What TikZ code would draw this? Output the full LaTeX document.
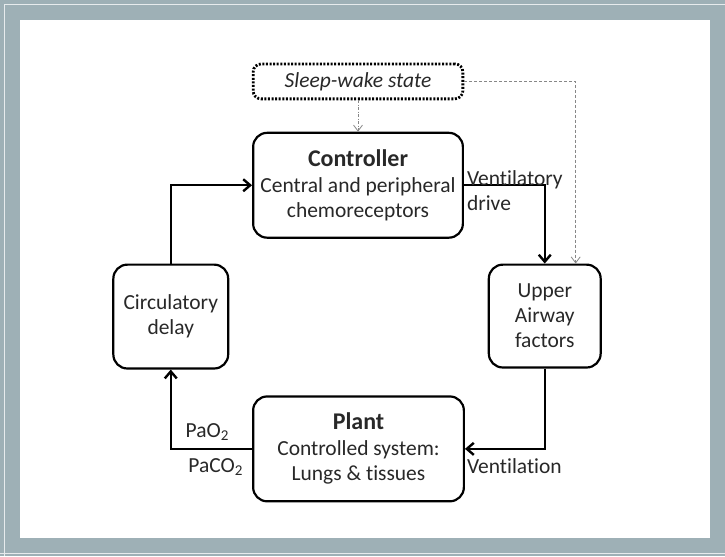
\documentclass[tikz,border=0pt]{standalone}
\usepackage{fontspec}
\setmainfont[Ligatures=NoCommon]{Carlito}
\usetikzlibrary{arrows.meta}
\definecolor{framegrey}{RGB}{158,176,182}
\definecolor{cuegrey}{RGB}{135,135,135}
\definecolor{inkgrey}{RGB}{40,40,40}
\newcommand{\blocktitle}[1]{{\fontsize{24}{28}\selectfont\bfseries #1}\\[1pt]}

\begin{document}
\begin{tikzpicture}[x=1pt,y=-1pt,
  block/.style={draw,line width=2.2pt,rounded corners=14pt,align=center,
    inner sep=0pt,text=inkgrey,font=\fontsize{21.5}{25}\selectfont},
  tag/.style={inner sep=0pt,text=inkgrey,font=\fontsize{21.5}{25}\selectfont},
  flow/.style={line width=2.4pt,-{Straight Barb[length=7pt,width=12pt]}},
  cue/.style={draw=cuegrey,line width=0.8pt,-{Straight Barb[length=6pt,width=9pt]}}]
% frame
\fill[framegrey] (0,0) rectangle (725,557);
\fill[white] (20,20) rectangle (710,539);
\draw[white!75!framegrey,line width=1pt] (4,557) -- (4,5) -- (725,5);
\draw[white!75!framegrey,line width=1pt] (0,554) -- (725,554);
% blocks
\node[block,rounded corners=8pt,line width=2.8pt,dash pattern=on 2pt off 1.6pt,
  minimum width=210pt,minimum height=35pt] (sleep) at (358,81.5)
  {\itshape Sleep-wake state};
\node[block,minimum width=210pt,minimum height=105pt] (ctrl) at (358,185.5)
  {\blocktitle{Controller}Central and peripheral\\chemoreceptors};
\node[block,minimum width=115pt,minimum height=104pt] (circ) at (170.5,317)
  {Circulatory\\delay};
\node[block,minimum width=112pt,minimum height=103pt] (ua) at (545,316.5)
  {Upper\\Airway\\factors};
\node[block,minimum width=211pt,minimum height=105pt] (plant) at (358.5,449.5)
  {\blocktitle{Plant}Controlled system:\\Lungs \& tissues};
% loop
\draw[flow] (circ.north) |- (ctrl.west);
\draw[flow] (ctrl.east) -| (ua.north);
\draw[flow] (ua.south) |- (plant.east);
\draw[flow] (plant.west) -| (circ.south);
% sleep-wake links
\draw[cue,dash pattern=on 3pt off 1.5pt on 1pt off 1.5pt] (sleep.south) -- (ctrl.north);
\draw[cue,dash pattern=on 3pt off 2pt] (sleep.east) -| ([xshift=31pt]ua.north);
% labels
\node[tag,align=left,anchor=west] (drive) at (467,190.5) {Ventilatory\\drive};
\node[tag,anchor=west] (vent) at (467,467) {Ventilation};
\node[tag,anchor=east] (pao) at (229,433) {PaO\textsubscript{2}};
\node[tag,anchor=east] (paco) at (243,468) {PaCO\textsubscript{2}};
\end{tikzpicture}
\end{document}
